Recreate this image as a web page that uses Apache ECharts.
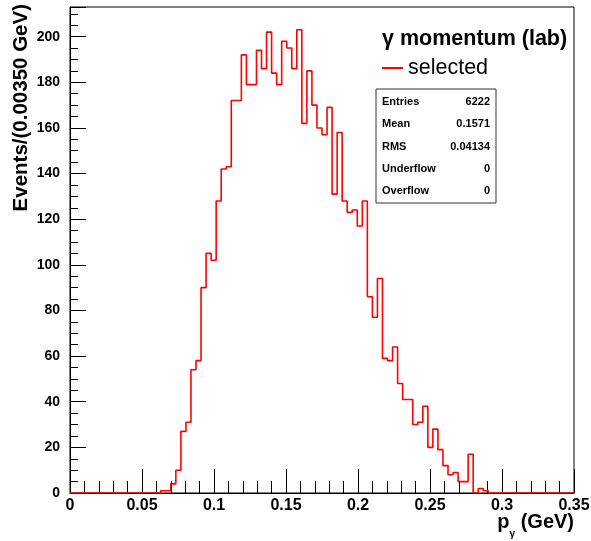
<!DOCTYPE html>
<html><head><meta charset="utf-8">
<script src="https://cdn.jsdelivr.net/npm/echarts@6/dist/echarts.min.js"></script>
<style>html,body{margin:0;padding:0;background:#fff}#c{width:591px;height:541px}</style>
</head><body><div id="c"></div>
<script>
// Histogram definition: 100 bins from 0 to 0.35 GeV
const binLow = 0;
const binWidth = 0.0035;
const binCounts = [
  0,0,0,0,0,0,0,0,0,0,
  0,0,0,0,0,0,0,0,1,1,
  4,10,27,31,54,58,90,105,102,128,
  142,143,172,172,192,179,179,194,186,202,
  184,179,198,195,186,203,162,185,170,160,
  157,169,131,158,128,123,124,117,128,86,
  77,94,59,58,64,48,41,41,30,31,
  38,20,28,19,12,8,9,5,5,17,
  0,2,1,0,0,0,0,0,0,0,
  0,0,0,0,0,0,0,0,0,0
];
const xRange = [0, 0.35];
const yRange = [0, 213];
const seriesName = 'selected';
const histTitle = 'γ momentum (lab)';
const statsLabels = ['Entries', 'Mean', 'RMS', 'Underflow', 'Overflow'];
const statsValues = ['6222', '0.1571', '0.04134', '0', '0'];
const yTitle = 'Events/(0.00350 GeV)';

const FONT = 'Liberation Sans, Arial, Helvetica, sans-serif';

// step points at bin low edges, plus closing point at the upper edge
const histPoints = binCounts.map((v, i) => [binLow + i * binWidth, v]);
histPoints.push([binLow + binCounts.length * binWidth, binCounts[binCounts.length - 1]]);

const chart = echarts.init(document.getElementById('c'), null, {renderer: 'canvas'});

const statsTop = 89, statsLeft = 376, statsW = 120, statsH = 114;
const statsGraphics = [{
  type: 'rect', shape: {x: statsLeft, y: statsTop, width: statsW, height: statsH},
  style: {fill: '#fff', stroke: '#333', lineWidth: 1}, z: 10
}];
statsLabels.forEach((lab, i) => {
  const y = statsTop + 13 + i * 22.3;
  statsGraphics.push({type: 'text', x: statsLeft + 6, y: y, z: 11,
    style: {text: lab, fontFamily: FONT, fontWeight: 'bold', fontSize: 11, fill: '#000', align: 'left', verticalAlign: 'middle'}});
  statsGraphics.push({type: 'text', x: statsLeft + statsW - 6, y: y, z: 11,
    style: {text: statsValues[i], fontFamily: FONT, fontWeight: 'bold', fontSize: 11, fill: '#000', align: 'right', verticalAlign: 'middle'}});
});

const option = {
  animation: false,
  backgroundColor: '#fff',
  grid: {left: 70, top: 7, right: 17, bottom: 48, show: true, borderColor: '#000', borderWidth: 1,
         backgroundColor: 'transparent', containLabel: false, outerBoundsMode: 'none'},
  title: {text: histTitle, left: 382, top: 28, padding: 0,
          textStyle: {fontFamily: FONT, fontWeight: 'bold', fontSize: 21.5, color: '#000'}},
  legend: {data: [seriesName], left: 382, top: 57, padding: 0, icon: 'rect', itemWidth: 21, itemHeight: 2,
           itemGap: 0, textStyle: {fontFamily: FONT, fontSize: 21.5, color: '#000'}},
  xAxis: [{
    type: 'value', min: xRange[0], max: xRange[1], interval: 0.05,
    axisLine: {show: true, onZero: false, lineStyle: {color: '#000', width: 1}},
    axisTick: {show: true, inside: true, length: 24, lineStyle: {color: '#000', width: 1}},
    minorTick: {show: true, splitNumber: 5, length: 12, lineStyle: {color: '#000', width: 1}},
    axisLabel: {fontFamily: FONT, fontWeight: 'bold', fontSize: 16, color: '#000', margin: 5,
                showMinLabel: true, showMaxLabel: true, hideOverlap: false},
    splitLine: {show: false}, minorSplitLine: {show: false}
  }],
  yAxis: [{
    type: 'value', position: 'left', min: yRange[0], max: yRange[1], interval: 20,
    axisLine: {show: true, onZero: false, lineStyle: {color: '#000', width: 1}},
    axisTick: {show: true, inside: true, length: 16, lineStyle: {color: '#000', width: 1}},
    axisLabel: {fontFamily: FONT, fontWeight: 'bold', fontSize: 14, color: '#000', margin: 10,
                formatter: v => (Math.abs(v % 20) < 1e-9 ? String(v) : ''), hideOverlap: false},
    splitLine: {show: false}
  }, {
    type: 'value', position: 'left', offset: 0, min: yRange[0], max: yRange[1], interval: 5,
    axisLine: {show: false},
    axisTick: {show: true, inside: true, length: 8, lineStyle: {color: '#000', width: 1}},
    axisLabel: {show: false},
    splitLine: {show: false}
  }],
  series: [{
    name: seriesName, type: 'line', step: 'end', data: histPoints,
    xAxisIndex: 0, yAxisIndex: 0,
    showSymbol: false, symbol: 'none', clip: true, z: 5,
    color: '#ff0000',
    lineStyle: {color: '#ff0000', width: 1.6}
  }],
  graphic: [
    ...statsGraphics,
    {type: 'text', x: 21, y: 4, rotation: Math.PI / 2,
     style: {text: yTitle, fontFamily: FONT, fontWeight: 'bold', fontSize: 20.5, fill: '#000', align: 'right', verticalAlign: 'middle'}},
    {type: 'text', x: 574, y: 522,
     style: {text: '{m|p}{s|γ}{m| (GeV)}', align: 'right', verticalAlign: 'middle',
       rich: {m: {fontFamily: FONT, fontWeight: 'bold', fontSize: 20, fill: '#000', verticalAlign: 'middle'},
              s: {fontFamily: FONT, fontWeight: 'bold', fontSize: 10, fill: '#000', verticalAlign: 'bottom', padding: [24, 0, 0, 0]}}}}
  ]
};
chart.setOption(option);
</script></body></html>
